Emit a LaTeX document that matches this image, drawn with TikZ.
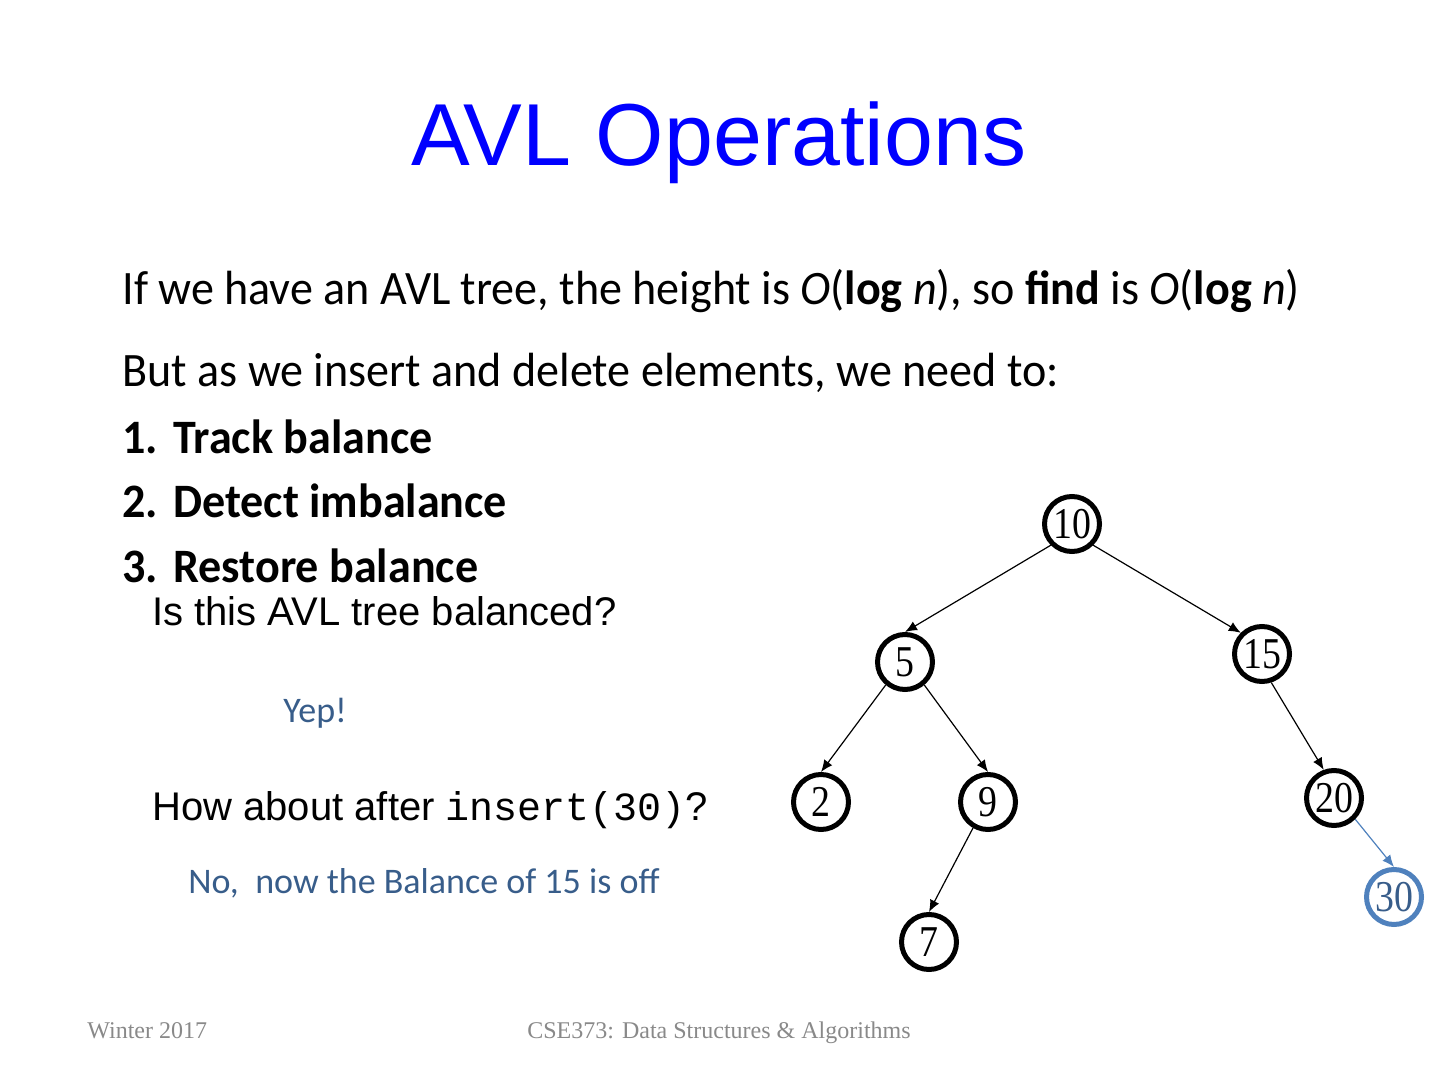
\documentclass[tikz,border=0pt]{standalone}
\usepackage{fontspec}
\setmainfont{Carlito}[FakeStretch=0.96]
\setmonofont{Liberation Mono}
\newfontfamily\notefont{Carlito}
\newfontfamily\arialfont{Liberation Sans}
\newfontfamily\timesfont{Liberation Serif}
\newfontfamily\keyfont{Liberation Serif}[FakeStretch=0.86]
\usepackage{tikz}
\usetikzlibrary{arrows.meta}
\definecolor{titleblue}{RGB}{0,0,255}
\definecolor{noteblue}{RGB}{56,93,138}
\definecolor{accentblue}{RGB}{79,129,189}
\definecolor{footgray}{RGB}{137,137,137}
\tikzset{
  avlnode/.style  = {circle,draw,line width=2.5pt,minimum size=27.5pt,inner sep=0pt,
                     font=\keyfont\fontsize{22}{22}\selectfont},
  newnode/.style  = {avlnode,draw=accentblue,text=noteblue},
  treearr/.style  = {-{Latex[length=6pt,width=5pt]},line width=0.6pt},
  newarr/.style   = {treearr,accentblue},
  bodytext/.style = {anchor=base west,inner sep=0pt,font=\fontsize{24}{28}\selectfont},
  asktext/.style  = {anchor=base west,inner sep=0pt,font=\arialfont\fontsize{20}{24}\selectfont},
  notetext/.style = {anchor=base west,inner sep=0pt,text=noteblue,font=\notefont\fontsize{18}{22}\selectfont},
  foottext/.style = {inner sep=0pt,text=footgray,font=\timesfont\fontsize{12}{14}\selectfont}
}
\newcommand{\bigO}{\textit{O}(\textbf{log} \textit{n})}

\begin{document}
\begin{tikzpicture}[x=0.5pt,y=-0.5pt]
  \useasboundingbox (0,0) rectangle (1440,1080);
  % title
  \node[anchor=base,inner sep=0pt,text=titleblue,font=\arialfont\fontsize{44}{48}\selectfont]
    (title) at (719,166) {AVL Operations};
  % body
  \node[bodytext] (line1) at (122,305) {If we have an AVL tree, the height is \bigO, so \textbf{find} is \bigO};
  \node[bodytext] (line2) at (122,387) {But as we insert and delete elements, we need to:};
  \node[bodytext] (num1) at (122,453) {\textbf{1.}};
  \node[bodytext] (step1) at (173,453) {\textbf{Track balance}};
  \node[bodytext] (num2) at (122,517) {\textbf{2.}};
  \node[bodytext] (step2) at (173,517) {\textbf{Detect imbalance}};
  \node[bodytext] (num3) at (122,582) {\textbf{3.}};
  \node[bodytext] (step3) at (173,582) {\textbf{Restore balance}};
  % questions
  \node[asktext] (ask1) at (152,625) {Is this AVL tree balanced?};
  \node[notetext] (yep) at (283,722) {Yep!};
  \node[asktext] (ask2) at (152,820) {How about after \texttt{insert(30)}?};
  \node[notetext] (nope) at (188,893) {No,\ \ now the Balance of 15 is off};
  % tree
  \node[avlnode] (n10) at (1072,524) {10};
  \node[avlnode] (n5)  at (905,662)  {5};
  \node[avlnode] (n15) at (1262,654) {15};
  \node[avlnode] (n2)  at (821,802)  {2};
  \node[avlnode] (n9)  at (988,802)  {9};
  \node[avlnode] (n20) at (1334,798) {20};
  \node[avlnode] (n7)  at (929,942)  {7};
  \node[newnode] (n30) at (1394,897) {30};
  \draw[treearr] (n10.south west) -- (n5.north);
  \draw[treearr] (n10.south east) -- (n15.north west);
  \draw[treearr] (n5.230) -- (n2.north);
  \draw[treearr] (n5.-50) -- (n9.north);
  \draw[treearr] (n9.240) -- (n7.north);
  \draw[treearr] (n15.-72) -- (n20.110);
  \draw[newarr]  (n20.south east) -- (n30.north);
  % footer
  \node[foottext,anchor=base west] (season) at (87,1038) {Winter 2017};
  \node[foottext,anchor=base] (course) at (719,1038) {CSE373: Data Structures \& Algorithms};
\end{tikzpicture}
\end{document}
